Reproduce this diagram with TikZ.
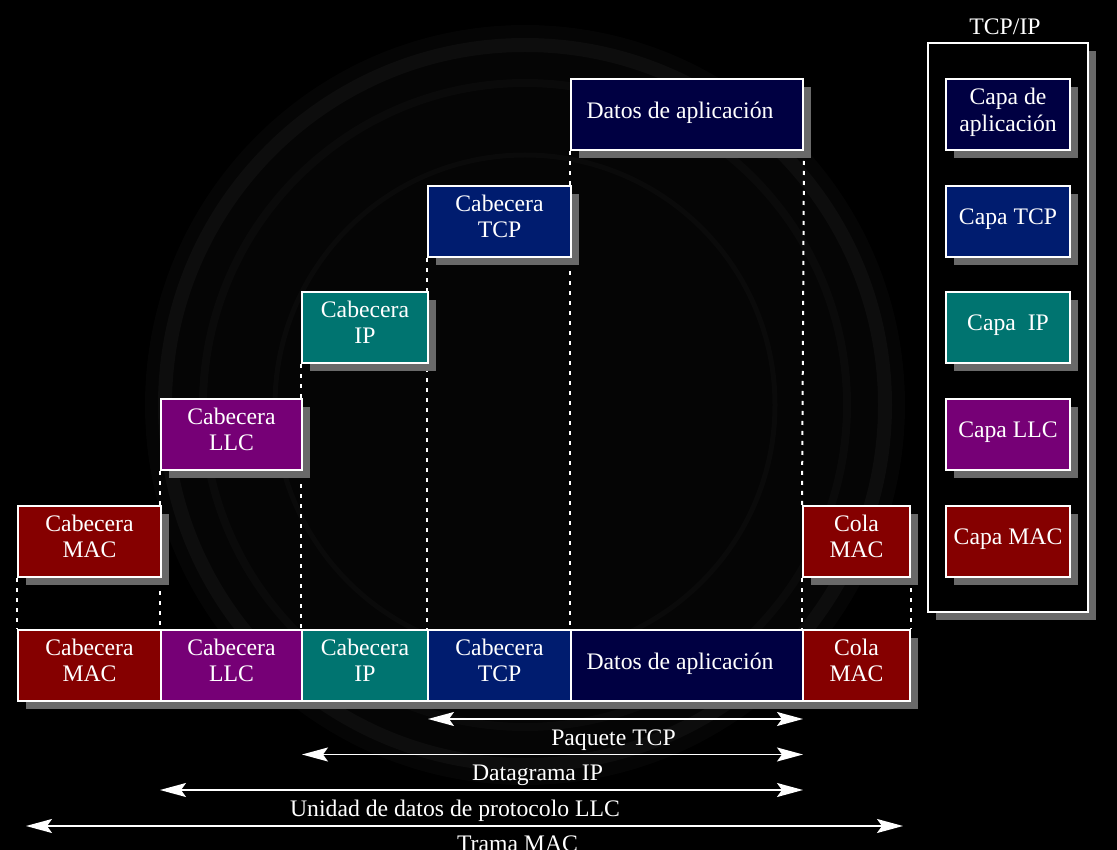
\documentclass[tikz,border=0pt]{standalone}
\usepackage{fontspec}
\setmainfont{Liberation Serif}
\usetikzlibrary{arrows.meta,shadows}
\pgfdeclarelayer{bg}
\pgfdeclarelayer{guides}
\pgfsetlayers{bg,guides,main}
\definecolor{macc}{HTML}{850000}
\definecolor{llcc}{HTML}{760076}
\definecolor{ipc}{HTML}{007470}
\definecolor{tcpc}{HTML}{001C6F}
\definecolor{datc}{HTML}{000042}
\definecolor{shdw}{HTML}{696969}
\definecolor{wm1}{HTML}{0D0D0D}
\definecolor{wm2}{HTML}{0A0A0A}
\definecolor{wm3}{HTML}{050505}
\tikzset{
  blk/.style={draw=white, line width=2pt, minimum height=71pt, inner sep=0pt,
    drop shadow={shadow xshift=8pt, shadow yshift=-8pt, fill=shdw, opacity=1}},
  txt/.style={text=white, align=center, inner sep=0pt},
  two/.style={label={[txt, yshift=5pt]center:#1}},
  one/.style={label={[txt, yshift=2pt]center:#1}},
  dots/.style={white, line width=2pt, dash pattern=on 4pt off 6pt},
  dim/.style={white, line width=1.6pt,
    {Stealth[length=26pt,width=14pt,inset=5pt]}-{Stealth[length=26pt,width=14pt,inset=5pt]}},
  lbl/.style={text=white, inner sep=0pt, anchor=base},
}
\begin{document}
\begin{tikzpicture}[x=1pt, y=-1pt, font=\fontsize{23.7}{26.5}\selectfont]
\useasboundingbox (0,0) rectangle (1117,850);
\begin{pgfonlayer}{bg}
\fill[black] (0,0) rectangle (1117,850);
% faint watermark seal
\fill[wm3] (525,405) circle[radius=380];
\draw[wm1, line width=14pt] (525,405) circle[radius=360];
\draw[wm2, line width=8pt] (525,405) circle[radius=322];
\draw[wm2, line width=5pt] (525,405) circle[radius=250];
\end{pgfonlayer}

% stair of headers
\node[blk, fill=macc, minimum width=143pt, two={Cabecera\\MAC}] (macT) at (89.5,541.5) {};
\node[blk, fill=llcc, minimum width=141pt, two={Cabecera\\LLC}] (llcT) at (231.5,434.5) {};
\node[blk, fill=ipc, minimum width=126pt, two={Cabecera\\IP}] (ipT) at (365,327.5) {};
\node[blk, fill=tcpc, minimum width=143pt, two={Cabecera\\TCP}] (tcpT) at (499.5,221.5) {};
\node[blk, fill=datc, minimum width=232pt, label={[txt, yshift=2pt, xshift=-7pt]center:Datos de aplicación}] (datT) at (687,114.5) {};
\node[blk, fill=macc, minimum width=107pt, two={Cola\\MAC}] (colaT) at (856.5,541.5) {};

% frame row
\node[blk, fill=macc, minimum width=143pt, two={Cabecera\\MAC}] (macB) at (89.5,665.5) {};
\node[blk, fill=llcc, minimum width=141pt, two={Cabecera\\LLC}] (llcB) at (231.5,665.5) {};
\node[blk, fill=ipc, minimum width=126pt, two={Cabecera\\IP}] (ipB) at (365,665.5) {};
\node[blk, fill=tcpc, minimum width=143pt, two={Cabecera\\TCP}] (tcpB) at (499.5,665.5) {};
\node[blk, fill=datc, minimum width=232pt, label={[txt, yshift=2pt, xshift=-7pt]center:Datos de aplicación}] (datB) at (687,665.5) {};
\node[blk, fill=macc, minimum width=107pt, two={Cola\\MAC}] (colaB) at (856.5,665.5) {};

% dotted guides, behind the boxes
\begin{pgfonlayer}{guides}
\draw[dots] (macT.south west) -- (macB.north west);
\draw[dots] (llcT.south west) -- (llcB.north west);
\draw[dots] (ipT.south west) -- (ipB.north west);
\draw[dots] (tcpT.south west) -- (tcpB.north west);
\draw[dots] (datT.south west) -- (datB.north west);
\draw[dots] (datT.south east) -- (colaT.north west);
\draw[dots] (colaT.south west) -- (colaB.north west);
\draw[dots] (colaT.south east) -- (colaB.north east);
\end{pgfonlayer}

% dimension arrows
\coordinate (pL) at (428,719);
\coordinate (pR) at (803,719);
\coordinate (dL) at (302,754.5);
\coordinate (dR) at (803,754.5);
\coordinate (uL) at (160,790);
\coordinate (uR) at (803,790);
\coordinate (tL) at (26,826);
\coordinate (tR) at (903,826);
\draw[dim] (pL) -- (pR);
\draw[dim] (dL) -- (dR);
\draw[dim] (uL) -- (uR);
\draw[dim] (tL) -- (tR);
\node[lbl] (pT) at (613.5,745.5) {Paquete TCP};
\node[lbl] (dT) at (537.5,780.5) {Datagrama IP};
\node[lbl] (uT) at (455,816) {Unidad de datos de protocolo LLC};
\node[lbl] (tT) at (517.5,851) {Trama MAC};

% TCP/IP stack
\node[lbl] (stk) at (1005,35) {TCP/IP};
\node[blk, fill=black, minimum width=160pt, minimum height=569pt] (frame) at (1008,327.5) {};
\node[blk, fill=datc, minimum width=124pt, one={Capa de\\aplicación}] (capApp) at (1008,114.5) {};
\node[blk, fill=tcpc, minimum width=124pt, one={Capa TCP}] (capTcp) at (1008,221.5) {};
\node[blk, fill=ipc, minimum width=124pt, one={Capa~~IP}] (capIp) at (1008,327.5) {};
\node[blk, fill=llcc, minimum width=124pt, one={Capa LLC}] (capLlc) at (1008,434.5) {};
\node[blk, fill=macc, minimum width=124pt, one={Capa MAC}] (capMac) at (1008,541.5) {};
\end{tikzpicture}
\end{document}
